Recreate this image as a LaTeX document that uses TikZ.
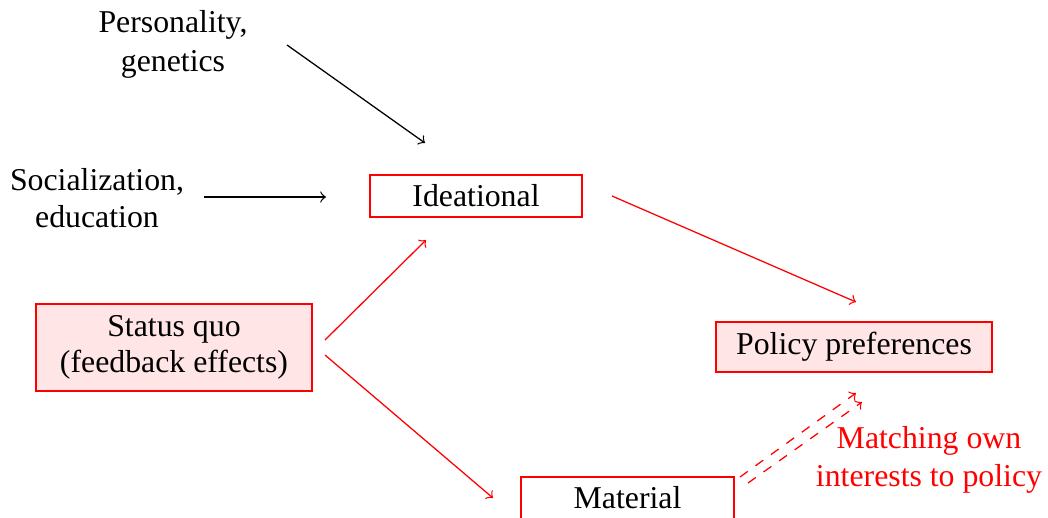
\documentclass[tikz,border=0pt]{standalone}
\usepackage{fontspec}
\setmainfont{Liberation Serif}
\usetikzlibrary{calc}
\begin{document}
\begin{tikzpicture}[x=0.3145pt,y=-0.3145pt,
  every node/.style={font=\fontsize{10}{11.5}\selectfont},
  plain/.style={align=center, inner sep=0pt},
  box/.style={draw=red, inner sep=0pt, align=center},
  pinkbox/.style={box, fill=red!10},
  blk/.style={->, black, line width=0.4pt},
  rd/.style={->, red, line width=0.4pt},
  rdd/.style={->, red, dashed, line width=0.4pt}]
\useasboundingbox (0,0) rectangle (1048,517);
\clip (0,0) rectangle (1048,517);
\node[plain, font=\fontsize{10}{12.3}\selectfont] (pers) at (173,44) {Personality,\\genetics};
\node[plain] (soc) at (97,198) {Socialization,\\education};
\node[box, minimum width=66.7pt, minimum height=13.2pt] (idea) at (476,196) {Ideational};
\node[pinkbox, minimum width=86.8pt, minimum height=27.4pt] (sq) at (174,347.5) {Status quo\\(feedback effects)};
\node[pinkbox, minimum width=86.8pt, minimum height=15.7pt] (pol) at (854,347) {Policy preferences};
\node[box, minimum width=67pt, minimum height=13.2pt] (mat) at (627.5,498) {Material};
\node[plain, text=red, font=\fontsize{10}{12}\selectfont] (match) at (929,460) {Matching own\\interests to policy};
% connector end points
\coordinate (p1) at (287,45);   \coordinate (p2) at (425,143);
\coordinate (s1) at (204,197);  \coordinate (s2) at (326,197);
\coordinate (i1) at (612,196);  \coordinate (i2) at (856,302);
\coordinate (q1) at (325,340);  \coordinate (q2) at (426,240);
\coordinate (q3) at (325,355);  \coordinate (q4) at (493,498);
\coordinate (m1) at (740,477);  \coordinate (m2) at (856,393);
\coordinate (m3) at (748,483);  \coordinate (m4) at (862,402);
\draw[blk] (p1) -- (p2);
\draw[blk] (s1) -- (s2);
\draw[rd] (i1) -- (i2);
\draw[rd] (q1) -- (q2);
\draw[rd] (q3) -- (q4);
\draw[rdd] (m1) -- (m2);
\draw[rdd] (m3) -- (m4);
\end{tikzpicture}
\end{document}
